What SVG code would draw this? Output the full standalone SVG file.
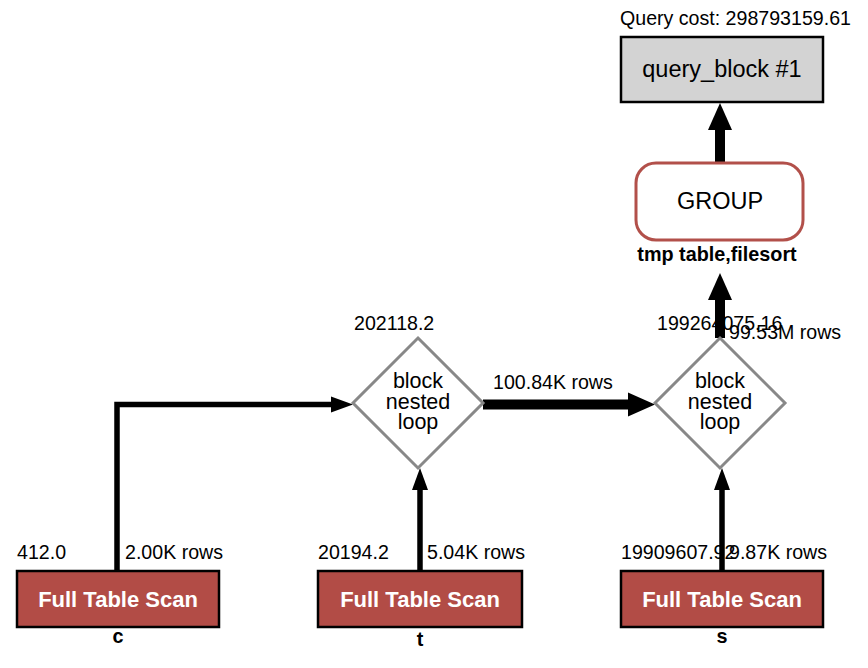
<svg xmlns="http://www.w3.org/2000/svg" width="868" height="668" viewBox="0 0 868 668">
<style>
text{font-family:"Liberation Sans",Arial,sans-serif;fill:#000}
.lbl{font-size:19.6px}
.big{font-size:23.5px}
.dt{font-size:21.5px}
.fts rect{fill:#b24c46;stroke:#000;stroke-width:2.5}
.fts .t{font-size:22px;font-weight:bold;fill:#fff}
.tbl{font-size:19.8px;font-weight:bold}
.dia polygon{fill:#fff;stroke:#888;stroke-width:3}
.thick{stroke:#000;stroke-width:10;fill:none;marker-end:url(#ah)}
.thin{stroke:#000;stroke-width:5.5;fill:none;marker-end:url(#as)}
</style>
<defs>
<marker id="ah" markerUnits="userSpaceOnUse" markerWidth="30" markerHeight="28" refX="0" refY="13" orient="auto" overflow="visible">
<path d="M0,1 L27,13 L0,25 Z" fill="#000"/>
</marker>
<marker id="as" markerUnits="userSpaceOnUse" markerWidth="24" markerHeight="18" refX="0" refY="8" orient="auto" overflow="visible">
<path d="M0,0 L22,8 L0,16 Z" fill="#000"/>
</marker>
</defs>
<g id="connectors">
<path class="thin" d="M117,571 V404.5 H331"/>
<path class="thin" d="M420,571 V490"/>
<path class="thin" d="M722,571 V490"/>
<path class="thick" d="M483,404.5 H628"/>
<path class="thick" d="M720,338 V300"/>
<path class="thick" d="M720,163 V130"/>
</g>
<g id="query_block">
<text x="620" y="25" class="lbl">Query cost: 298793159.61</text>
<rect x="621" y="37" width="202" height="65" fill="#d3d3d3" stroke="#000" stroke-width="2.5"/>
<text x="722" y="77" class="big" text-anchor="middle">query_block #1</text>
</g>
<g id="group">
<rect x="636" y="163" width="167" height="77" rx="20" ry="20" fill="#fff" stroke="#b2504a" stroke-width="3"/>
<text x="720" y="209" class="big" text-anchor="middle">GROUP</text>
<text x="717" y="261" class="tbl" text-anchor="middle">tmp table,filesort</text>
</g>
<g id="nl1" class="dia">
<polygon points="418,338 483,403 418,468 353,403"/>
<text x="418" y="388" class="dt" text-anchor="middle">block</text>
<text x="418" y="409" class="dt" text-anchor="middle">nested</text>
<text x="418" y="429" class="dt" text-anchor="middle">loop</text>
<text x="354" y="330" class="lbl">202118.2</text>
<text x="493" y="389" class="lbl">100.84K rows</text>
</g>
<g id="nl2" class="dia">
<polygon points="720,338 785,403 720,468 655,403"/>
<text x="720" y="388" class="dt" text-anchor="middle">block</text>
<text x="720" y="409" class="dt" text-anchor="middle">nested</text>
<text x="720" y="429" class="dt" text-anchor="middle">loop</text>
<text x="657" y="330" class="lbl">199264075.16</text>
<text x="729" y="339" class="lbl">99.53M rows</text>
</g>
<g id="scan_c" class="fts">
<rect x="17" y="571" width="202" height="56"/>
<text x="118" y="607" class="t" text-anchor="middle">Full Table Scan</text>
<text x="118" y="643" class="tbl" text-anchor="middle">c</text>
<text x="17" y="559" class="lbl">412.0</text>
<text x="125" y="559" class="lbl">2.00K rows</text>
</g>
<g id="scan_t" class="fts">
<rect x="318" y="571" width="204" height="56"/>
<text x="420" y="607" class="t" text-anchor="middle">Full Table Scan</text>
<text x="420" y="646" class="tbl" text-anchor="middle">t</text>
<text x="318" y="559" class="lbl">20194.2</text>
<text x="427" y="559" class="lbl">5.04K rows</text>
</g>
<g id="scan_s" class="fts">
<rect x="621" y="571" width="202" height="56"/>
<text x="722" y="607" class="t" text-anchor="middle">Full Table Scan</text>
<text x="722" y="643" class="tbl" text-anchor="middle">s</text>
<text x="621" y="559" class="lbl">19909607.92</text>
<text x="729" y="559" class="lbl">9.87K rows</text>
</g>
</svg>
